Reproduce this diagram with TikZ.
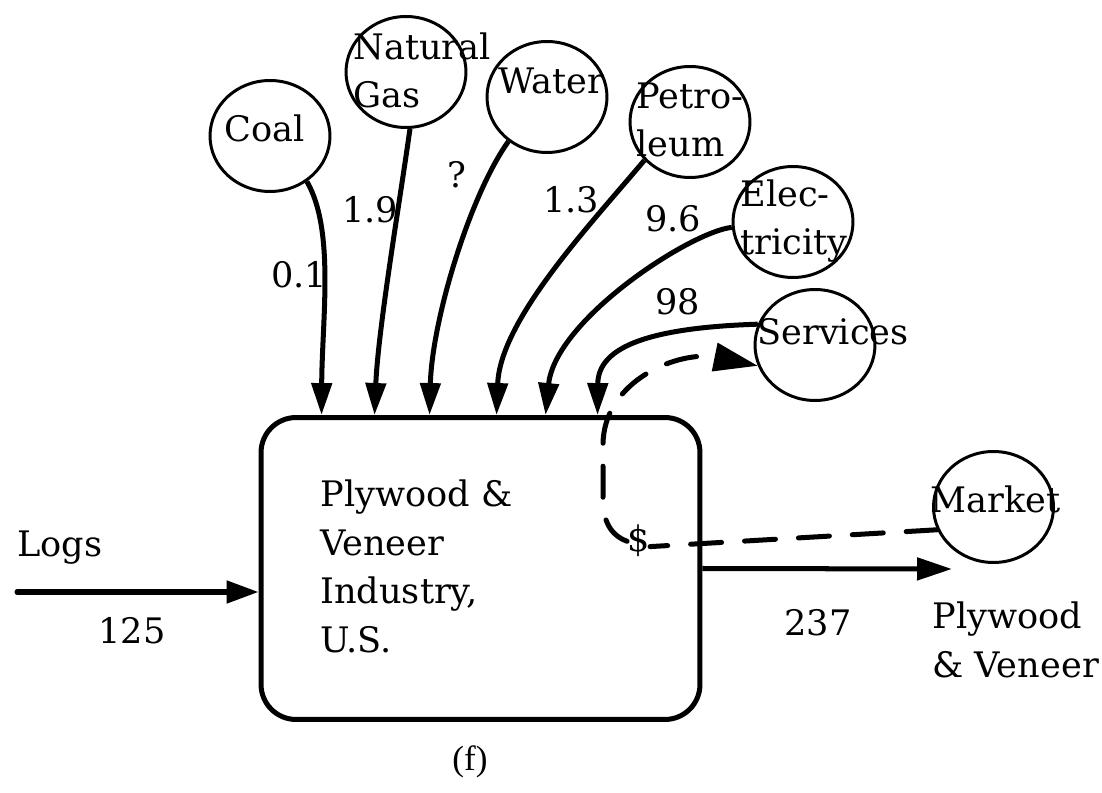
\documentclass[tikz,border=0pt]{standalone}
\usepackage{fontspec}
\setmainfont{DejaVu Serif}
\newfontfamily\capfont{Liberation Serif}
\usetikzlibrary{arrows.meta,shapes.geometric,calc}
\tikzset{
    bubble/.style={draw,ellipse,line width=1.7pt,minimum width=2.4cm,minimum height=2.22cm,inner sep=0pt},
    txt/.style={anchor=base west,inner sep=0pt,align=left,font=\fontsize{20}{27.6}\selectfont},
    flow/.style={line width=2.85pt,-{Triangle[length=0.64cm,width=0.4cm]}},
    money/.style={line width=2.85pt,line cap=round,dash pattern=on 0.62cm off 0.46cm}
}

\begin{document}
\begin{tikzpicture}[x=0.02cm,y=-0.02cm]
        \useasboundingbox (0,0) rectangle (1102,793);
        \node[draw,rounded corners=0.7cm,line width=2.85pt,minimum width=8.78cm,minimum height=6.04cm] (ind) at (480.5,568.5) {}; % Indústria
        \node[txt] (indtxt) at (320,652) {Plywood \&\\Veneer\\Industry,\\U.S.}; % base = darrera línia
        \node[bubble] (coal) at (270,136) {}; \node[txt] (coaltxt) at (224,142) {Coal};
        \node[bubble] (gas) at (406,72) {}; \node[txt] (gastxt) at (353,108) {Natural\\Gas};
        \node[bubble] (water) at (547,97) {}; \node[txt] (watertxt) at (498,94) {Water};
        \node[bubble] (petro) at (690,122) {}; \node[txt] (petrotxt) at (636,157) {Petro-\\leum};
        \node[bubble] (elec) at (793,222) {}; \node[txt] (electxt) at (740,255) {Elec-\\tricity};
        \node[bubble] (serv) at (815,345) {}; \node[txt] (servtxt) at (757,345) {Services};
        \node[bubble] (market) at (993.5,507) {}; \node[txt] (markettxt) at (930,513) {Market};
        \draw[flow] (coal.-51) .. controls (335,230) and (322,320) .. ($(ind.north west)+(63,0)$);
        \draw[flow] (gas.-86) .. controls (400,200) and (378,330) .. ($(ind.north west)+(116,0)$);
        \draw[flow] (water.-131) .. controls (470,195) and (432,320) .. ($(ind.north west)+(171,0)$);
        \draw[flow] (petro.-140) .. controls (590,225) and (500,320) .. ($(ind.north west)+(238,0)$);
        \draw[flow] (elec.-175) .. controls (690,232) and (555,320) .. ($(ind.north west)+(287,0)$);
        \draw[flow] (serv.160) .. controls (640,328) and (598,350) .. ($(ind.north west)+(339,0)$);
        \node[txt] (n01) at (271,288) {0.1}; \node[txt] (n19) at (342,223) {1.9};
        \node[txt] (nq) at (447,188) {?}; \node[txt] (n13) at (543,213) {1.3};
        \node[txt] (n96) at (645,232) {9.6}; \node[txt] (n98) at (655,315) {98};
        % Diners
        \node[txt] (dollar) at (627,552) {\$};
        \draw[money] (market.-158) -- (dollar.-25);
        \draw[money,-{Triangle[length=0.88cm,width=0.56cm]}] (dollar.west) .. controls (610,535) and (603,520) .. (603,500) -- (603,445) .. controls (603,380) and (680,350) .. (serv.-160);
        % Entrada i sortida
        \coordinate (logsin) at (17,592);
        \coordinate (outend) at (952,569);
        \node[txt] (logs) at (17,557) {Logs}; \node[txt] (n125) at (98,643) {125};
        \draw[line width=2.85pt,line cap=round,-{Triangle[length=0.64cm,width=0.44cm]}] (logsin) -- (ind.west |- logsin);
        \draw[line width=2.85pt,-{Triangle[length=0.7cm,width=0.44cm]}] (ind.east) -- (outend);
        \node[txt] (n237) at (784,635) {237}; \node[txt] (prod) at (932,677) {Plywood\\\& Veneer};
        \node[anchor=base west,inner sep=0pt,font=\capfont\fontsize{20}{24}\selectfont] (cap) at (452,770) {(f)};
    \end{tikzpicture}
\end{document}
